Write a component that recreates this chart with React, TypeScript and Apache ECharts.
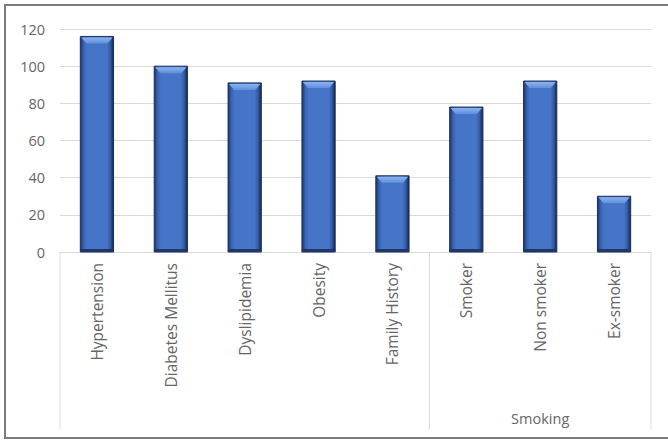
import React, { useEffect, useRef } from "react";
import * as echarts from "echarts";

const categories = [
  "Hypertension",
  "Diabetes Mellitus",
  "Dyslipidemia",
  "Obesity",
  "Family History",
  "Smoker",
  "Non smoker",
  "Ex-smoker",
];
const counts = [116, 100, 91, 92, 41, 78, 92, 30];
// second-level grouping of the category axis: [label, first index, last index]
const groups: [string, number, number][] = [
  ["", 0, 4],
  ["Smoking", 5, 7],
];
const yTicks = { min: 0, max: 120, interval: 20 };

const FONT = "Open Sans";
const TEXT_COLOR = "#666666";
const LINE_COLOR = "#d9d9d9";

export default function App() {
  const ref = useRef<HTMLDivElement>(null);

  useEffect(() => {
    document.body.style.margin = "0";
    const chart = echarts.init(ref.current!, null, { renderer: "svg" });

    const renderBar = (params: any, api: any) => {
      const idx = api.value(0);
      const v = api.value(1);
      const top = api.coord([idx, v]);
      const base = api.coord([idx, 0]);
      const bw = api.size([1, 0])[0] * 0.45;
      const x0 = top[0] - bw / 2;
      const y0 = top[1];
      const h = base[1] - top[1];
      const bev = Math.min(6, h / 3);
      return {
        type: "group",
        children: [
          {
            type: "rect",
            shape: { x: x0, y: y0, width: bw, height: h },
            style: {
              fill: new echarts.graphic.LinearGradient(0, 0, 1, 0, [
                { offset: 0, color: "#1b356b" },
                { offset: 0.1, color: "#3763b2" },
                { offset: 0.2, color: "#4674c6" },
                { offset: 0.8, color: "#4674c6" },
                { offset: 0.9, color: "#345ca4" },
                { offset: 1, color: "#12264d" },
              ]),
              stroke: "#1b2f5c",
              lineWidth: 1,
            },
          },
          {
            type: "rect",
            shape: { x: x0, y: base[1] - 3, width: bw, height: 3 },
            style: { fill: "#1f3668" },
          },
          {
            type: "polygon",
            shape: {
              points: [
                [x0 + 1, y0 + 1],
                [x0 + bw - 1, y0 + 1],
                [x0 + bw - bev, y0 + bev + 1],
                [x0 + bev, y0 + bev + 1],
              ],
            },
            style: {
              fill: new echarts.graphic.LinearGradient(0, 0, 0, 1, [
                { offset: 0, color: "#8db2ee" },
                { offset: 1, color: "#5f8fdc" },
              ]),
            },
          },
        ],
      };
    };

    chart.setOption({
      animation: false,
      textStyle: { fontFamily: FONT },
      grid: { left: 60, right: 17, top: 29, bottom: 191 },
      xAxis: {
        type: "category",
        data: categories,
        axisLine: { show: true, lineStyle: { color: LINE_COLOR, width: 1 } },
        axisTick: { show: false },
        axisLabel: {
          rotate: 90,
          interval: 0,
          margin: 11,
          color: TEXT_COLOR,
          fontSize: 15.5,
          fontFamily: FONT,
        },
      },
      yAxis: {
        type: "value",
        min: yTicks.min,
        max: yTicks.max,
        interval: yTicks.interval,
        axisLine: { show: false },
        axisTick: { show: false },
        splitLine: { lineStyle: { color: LINE_COLOR, width: 1 } },
        axisLabel: { color: TEXT_COLOR, fontSize: 14.5, margin: 15, fontFamily: FONT },
      },
      series: [
        {
          type: "custom",
          renderItem: renderBar,
          encode: { x: 0, y: 1 },
          data: counts.map((c, i) => [i, c]),
        },
      ],
    });

    // group separators and group labels below the category labels
    const axisY = chart.convertToPixel({ yAxisIndex: 0 }, 0) as number;
    const center = (i: number) => chart.convertToPixel({ xAxisIndex: 0 }, i) as number;
    const half = (center(1) - center(0)) / 2;
    const lineBottom = 429;
    const graphics: any[] = [];
    const edges = new Set<number>();
    groups.forEach(([label, a, b]) => {
      const left = center(a) - half;
      const right = center(b) + half;
      edges.add(Math.round(left * 10) / 10);
      edges.add(Math.round(right * 10) / 10);
      if (label) {
        graphics.push({
          type: "text",
          x: (left + right) / 2,
          y: 418,
          style: {
            text: label,
            fill: TEXT_COLOR,
            fontSize: 14.5,
            fontFamily: FONT,
            align: "center",
            verticalAlign: "middle",
          },
        });
      }
    });
    edges.forEach((x) => {
      graphics.push({
        type: "line",
        shape: { x1: x, y1: axisY, x2: x, y2: lineBottom },
        style: { stroke: LINE_COLOR, lineWidth: 1 },
      });
    });
    graphics.push({
      type: "rect",
      shape: { x: 5, y: 5, width: 700, height: 433 },
      style: { fill: "none", stroke: "#7a7a7a", lineWidth: 2 },
    });
    chart.setOption({ graphic: graphics });

    return () => chart.dispose();
  }, []);

  return <div ref={ref} style={{ width: 668, height: 443 }} />;
}
